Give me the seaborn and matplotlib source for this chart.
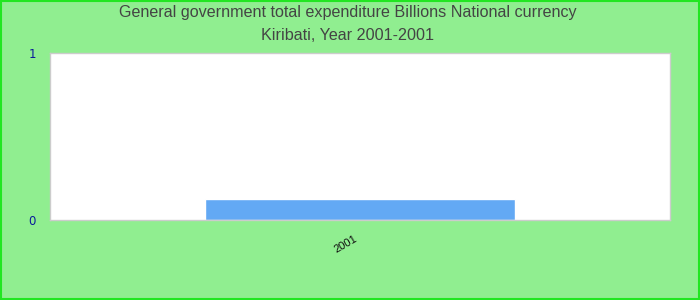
import matplotlib
matplotlib.use("Agg")
import matplotlib.pyplot as plt
import matplotlib.transforms as mtransforms
import seaborn as sns
import pandas as pd
from matplotlib.patches import Rectangle

years = ["2001"]
values = [0.126]
title_line1 = "General government total expenditure Billions National currency"
title_line2 = "Kiribati, Year 2001-2001"

df = pd.DataFrame({"year": years, "value": values})

sns.set_style("white")
plt.rcParams['font.family'] = ['Liberation Sans', 'DejaVu Sans']

fig = plt.figure(figsize=(7, 3), dpi=100, facecolor="#90EE90")
ax = fig.add_axes([50/700, 80/300, 620/700, 167/300])
ax.set_facecolor("white")

sns.barplot(data=df, x="year", y="value", color="#63A9F4", width=1.0,
            saturation=1, ax=ax)
ax.set_xlim(-1, 1)
ax.set_ylim(0, 1)
ax.set_yticks([0, 1])
ax.set_yticklabels(["0", "1"], color="#0A1A9A", fontsize=8.5, family="DejaVu Sans")
ax.tick_params(axis="y", length=0, pad=10)
ax.tick_params(axis="x", length=0, pad=10)
offset = mtransforms.ScaledTranslation(-6/100, 0, fig.dpi_scale_trans)
for lbl in ax.get_xticklabels():
    lbl.set_rotation(30)
    lbl.set_ha("right")
    lbl.set_rotation_mode("anchor")
    lbl.set_fontsize(8)
    lbl.set_color("#111111")
    lbl.set_transform(lbl.get_transform() + offset)
ax.set_xlabel("")
ax.set_ylabel("")
for s in ax.spines.values():
    s.set_color("#CCCCCC")
    s.set_linewidth(1)

fig.text(0.497, 1 - 13/300, title_line1, ha="center", va="center",
         fontsize=11.6, color="#444444")
fig.text(0.497, 1 - 36/300, title_line2, ha="center", va="center",
         fontsize=11.6, color="#444444")

fig.patches.append(Rectangle((0.001, 0.002), 0.998, 0.996, transform=fig.transFigure,
                             fill=False, edgecolor="#22E622", linewidth=1.5))

fig.savefig("out.png", dpi=100, facecolor=fig.get_facecolor())
